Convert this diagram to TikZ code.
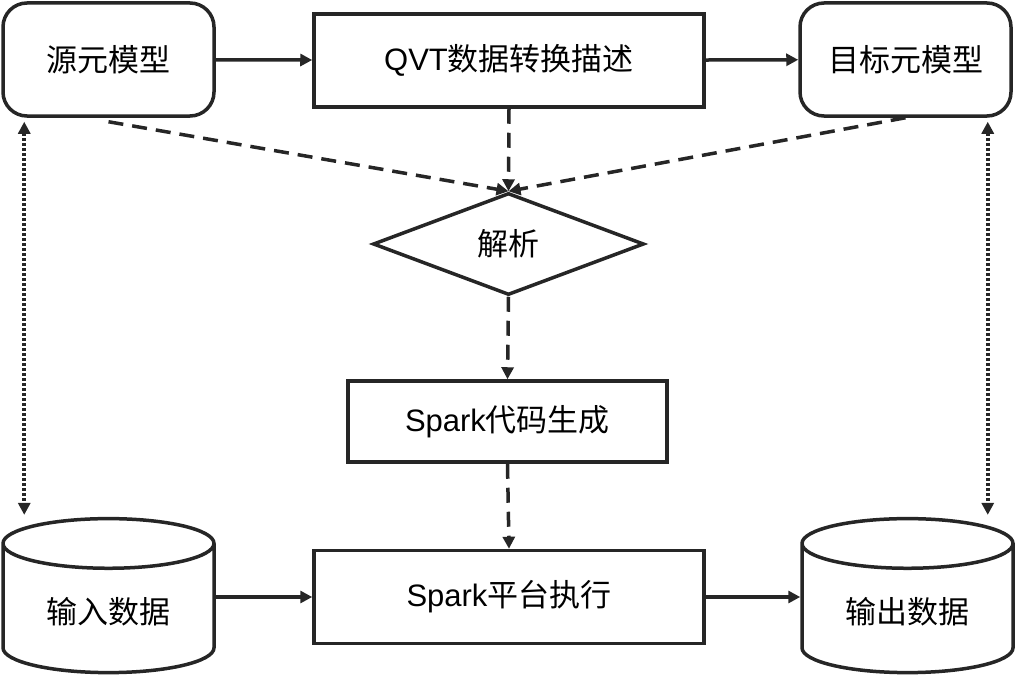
\documentclass[tikz,border=0pt]{standalone}
\usepackage{fontspec}
\setmainfont{Liberation Sans}
\newfontfamily\cjk{Noto Sans CJK SC}
\usepackage{tikz}
\usetikzlibrary{shapes.geometric,arrows.meta}

\begin{document}
\begin{tikzpicture}[x=1pt,y=-1pt,
		every node/.style={draw=black!85,line width=3.5pt,fill=white,font=\fontsize{31}{36}\selectfont},
		model/.style={rounded corners=24pt,minimum width=211pt,minimum height=113pt},
		proc/.style={minimum width=390pt,minimum height=93pt},
		store/.style={cylinder,shape border rotate=90,aspect=0.38,minimum width=211pt,minimum height=154pt},
		flow/.style={draw=black!85,line width=3.5pt,-{Triangle[length=12pt,width=12pt]}},
		dflow/.style={flow,dash pattern=on 15pt off 9pt},
		link/.style={draw=black!85,line width=4pt,dash pattern=on 3pt off 2pt,{Triangle[length=12pt,width=12pt]}-{Triangle[length=12pt,width=12pt]}}]
	\useasboundingbox (0,0) rectangle (1018,677);
	
	\node[model] (src) at (108.5,59.5) {\cjk 源元模型};
	\node[proc] (qvt) at (509,60.5) {QVT\cjk 数据转换描述};
	\node[model] (tgt) at (905.5,59.5) {\cjk 目标元模型};
	\node[diamond,aspect=2.6,minimum width=271pt,minimum height=102pt] (parse) at (508.5,244) {\cjk 解析};
	\node[minimum width=319pt,minimum height=81pt] (gen) at (507.5,421.5) {Spark\cjk 代码生成};
	\node[proc] (exec) at (509,597) {Spark\cjk 平台执行};
	\node[store] (in) at (108.5,612) {\cjk 输入数据};
	\node[store] (out) at (907.5,612) {\cjk 输出数据};
	
	\draw[flow] (src) -- (qvt);
	\draw[flow] (qvt) -- (tgt);
	\draw[flow] (in.east |- exec.west) -- (exec.west);
	\draw[flow] (exec.east) -- (exec.east -| out.west);
	
	% mapping towards the parser
	\draw[dflow] ([yshift=-4pt]src.south) -- (parse.north);
	\draw[dflow] (tgt.south) -- (parse.north);
	\draw[dflow] (qvt.south) -- (parse.north);
	\draw[dflow] (parse.south) -- (gen.north);
	\draw[dflow] (gen.south) -- (exec.north);
	
	\coordinate (srcL) at ([xshift=23pt]src.south west);
	\coordinate (tgtR) at ([xshift=-25pt]tgt.south east);
	\draw[link] ([yshift=-4pt]srcL) -- ([yshift=2pt]srcL |- in.north);
	\draw[link] ([yshift=-4pt]tgtR) -- ([yshift=2pt]tgtR |- out.north);
\end{tikzpicture}
\end{document}
